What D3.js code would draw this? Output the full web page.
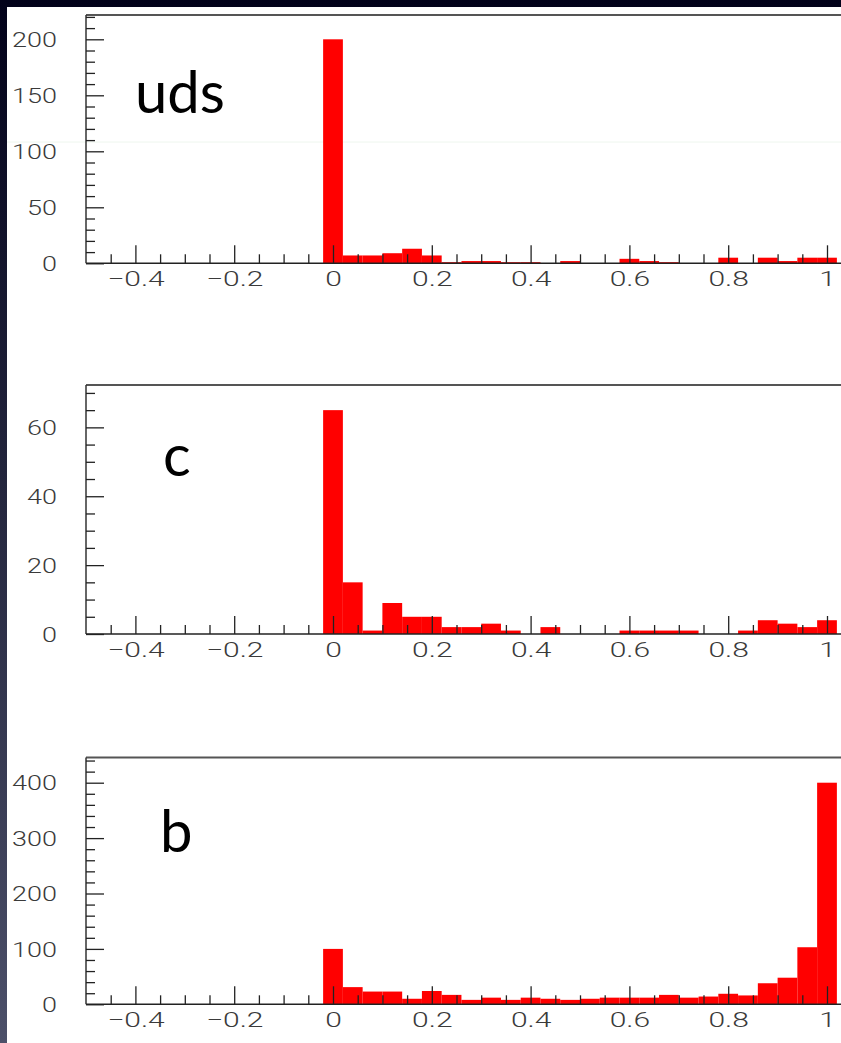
<!DOCTYPE html>
<html>
<head>
<meta charset="utf-8">
<script src="https://cdn.jsdelivr.net/npm/d3@7"></script>
<style>
  html, body { margin: 0; padding: 0; background: #020218; }
  svg { display: block; }
</style>
</head>
<body>
<svg id="chart" width="841" height="1043"></svg>
<script>
// ---------------- data ----------------
const binCenters = [0.00,0.04,0.08,0.12,0.16,0.20,0.24,0.28,0.32,0.36,0.40,0.44,0.48,
                    0.52,0.56,0.60,0.64,0.68,0.72,0.76,0.80,0.84,0.88,0.92,0.96,1.00];
const binWidth = 0.04;
const udsCounts = [200,7,7,9,13,7,1,2,2,1,1,0,2,0,0,4,2,1,0,0,5,0,5,2,5,5];
const cCounts   = [65,15,1,9,5,5,2,2,3,1,0,2,0,0,0,1,1,1,1,0,0,1,4,3,2,4];
const bCounts   = [100,31,23,23,10,24,17,8,12,8,12,10,8,10,12,12,12,17,12,14,19,16,38,48,103,400];
const panelLabels = ["uds", "c", "b"];
const xTickValues = [-0.4,-0.2,0,0.2,0.4,0.6,0.8,1];
const udsYTicks = [0,50,100,150,200];
const cYTicks   = [0,20,40,60];
const bYTicks   = [0,100,200,300,400];

// ---------------- layout ----------------
const W = 841, H = 1043;
const svg = d3.select("#chart");
const defs = svg.append("defs");
const grad = defs.append("linearGradient").attr("id","bg").attr("x1",0).attr("y1",0).attr("x2",0).attr("y2",1);
grad.append("stop").attr("offset","0%").attr("stop-color","#02021a");
grad.append("stop").attr("offset","45%").attr("stop-color","#22243c");
grad.append("stop").attr("offset","100%").attr("stop-color","#4c5069");
svg.append("rect").attr("width",W).attr("height",H).attr("fill","url(#bg)");
svg.append("rect").attr("x",7).attr("y",7).attr("width",W-7).attr("height",H-7).attr("fill","#ffffff");
// faint scan line artefact
svg.append("line").attr("x1",7).attr("x2",W).attr("y1",142).attr("y2",142)
   .attr("stroke","#eef6ee").attr("stroke-width",1);

const x = d3.scaleLinear().domain([-0.5, 1.0]).range([86, 827]);
const xMinor = d3.range(-0.45, 1.10, 0.05).filter(v => xTickValues.every(t => Math.abs(t - v) > 1e-6));

const panels = [
  { label: panelLabels[0], counts: udsCounts, top: 15,    bottom: 263.3,  yMax: 221.7, ticks: udsYTicks, minor: 10, lx: 135, ly: 113 },
  { label: panelLabels[1], counts: cCounts,   top: 385,   bottom: 634,    yMax: 72.3,  ticks: cYTicks,   minor: 5,  lx: 163, ly: 476 },
  { label: panelLabels[2], counts: bCounts,   top: 757.5, bottom: 1004.3, yMax: 445.5, ticks: bYTicks,   minor: 20, lx: 160, ly: 852 }
];

const tickFont = "Roboto, 'Liberation Sans', sans-serif";
const fmt = d3.format("");

panels.forEach(p => {
  const g = svg.append("g");
  const y = d3.scaleLinear().domain([0, p.yMax]).range([p.bottom, p.top]);

  // bars
  g.selectAll("rect.bar").data(binCenters.map((c, i) => ({c, v: p.counts[i]})))
    .enter().append("rect").attr("class","bar")
    .attr("x", d => x(d.c - binWidth/2))
    .attr("width", d => x(d.c + binWidth/2) - x(d.c - binWidth/2))
    .attr("y", d => y(d.v))
    .attr("height", d => y(0) - y(d.v))
    .attr("fill", "#ff0000");

  // frame
  g.append("line").attr("x1",86).attr("x2",W).attr("y1",p.top).attr("y2",p.top)
    .attr("stroke","#555").attr("stroke-width",2);
  g.append("line").attr("x1",86).attr("x2",86).attr("y1",p.top).attr("y2",p.bottom)
    .attr("stroke","#333").attr("stroke-width",1.5);
  g.append("line").attr("x1",86).attr("x2",W).attr("y1",p.bottom).attr("y2",p.bottom)
    .attr("stroke","#222").attr("stroke-width",1.5);

  // x axis major ticks + labels
  const xa = g.append("g").attr("transform", `translate(0,${p.bottom})`)
    .call(d3.axisBottom(x).tickValues(xTickValues).tickSize(-18).tickPadding(0)
      .tickFormat(d => d3.format("")(d)));
  xa.select(".domain").remove();
  xa.selectAll(".tick line").attr("stroke","#222").attr("stroke-width",1.3);
  xa.selectAll(".tick text")
    .attr("y", 0).attr("dy", null)
    .attr("transform", "translate(0,23) scale(1.5,1)")
    .attr("font-family", tickFont).attr("font-weight", 300)
    .attr("font-size", 20).attr("fill", "#3a3a3a");

  // x minor ticks
  const xm = g.append("g").attr("transform", `translate(0,${p.bottom})`)
    .call(d3.axisBottom(x).tickValues(xMinor).tickSize(-9).tickFormat(""));
  xm.select(".domain").remove();
  xm.selectAll(".tick line").attr("stroke","#222").attr("stroke-width",1.3);

  // y axis major ticks + labels
  const ya = g.append("g").attr("transform", "translate(86,0)")
    .call(d3.axisLeft(y).tickValues(p.ticks).tickSize(-18).tickPadding(0).tickFormat(fmt));
  ya.select(".domain").remove();
  ya.selectAll(".tick line").attr("stroke","#222").attr("stroke-width",1.3);
  ya.selectAll(".tick text")
    .attr("x", 0).attr("dy", "0.36em")
    .attr("transform", "translate(-29,0) scale(1.35,1)")
    .attr("font-family", tickFont).attr("font-weight", 300)
    .attr("font-size", 20).attr("fill", "#3a3a3a");

  // y minor ticks
  const yMinorVals = d3.range(0, p.yMax, p.minor).filter(v => p.ticks.indexOf(v) < 0);
  const ym = g.append("g").attr("transform", "translate(86,0)")
    .call(d3.axisLeft(y).tickValues(yMinorVals).tickSize(-9).tickFormat(""));
  ym.select(".domain").remove();
  ym.selectAll(".tick line").attr("stroke","#222").attr("stroke-width",1.3);

  // panel label
  g.append("text").attr("x", p.lx).attr("y", p.ly)
    .attr("font-family", "Lato, 'Open Sans', sans-serif")
    .attr("font-size", 58).attr("fill", "#000")
    .text(p.label);
});
</script>
</body>
</html>
